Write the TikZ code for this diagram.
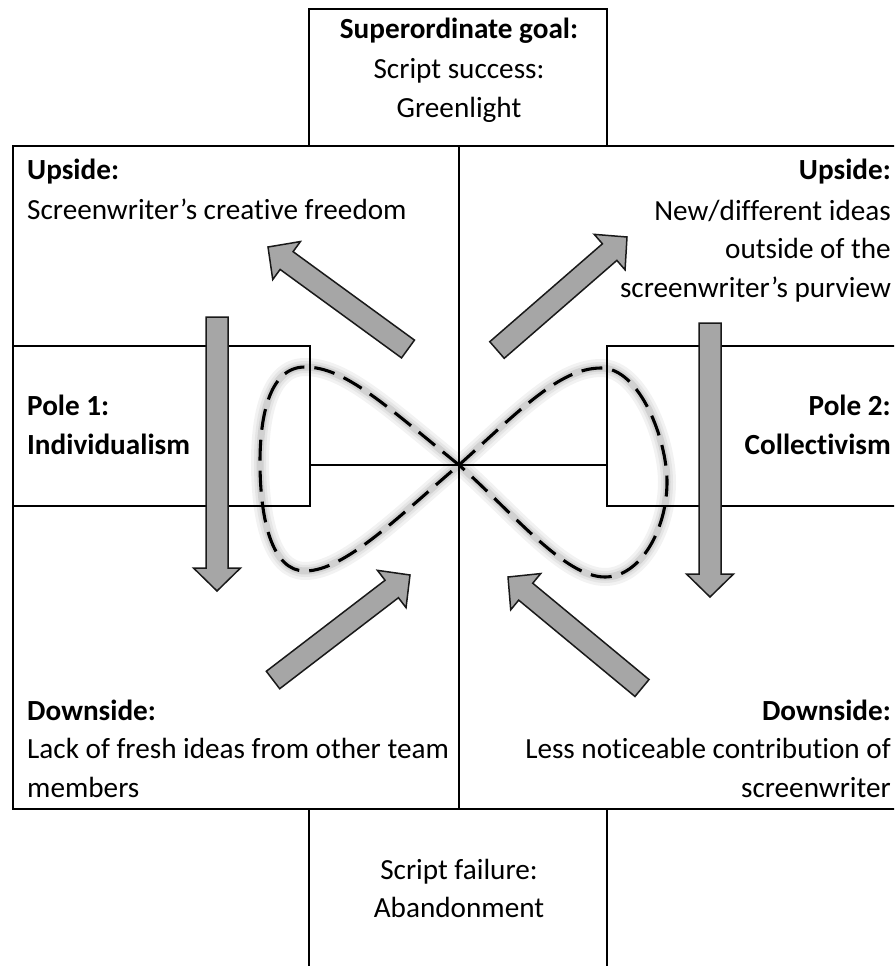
\documentclass[tikz,border=0pt]{standalone}
\usepackage{fontspec}
\setmainfont{Carlito}[Ligatures=NoCommon]
\usetikzlibrary{calc}
\definecolor{arrowgray}{HTML}{A6A6A6}
\tikzset{
  frameline/.style={line width=2pt, black},
  txt/.style={inner sep=0pt, font=\fontsize{29.2}{39}\selectfont},
  btxt/.style={inner sep=0pt, font=\fontsize{29.2}{39}\selectfont\bfseries},
  barrow/.style={fill=arrowgray, draw=black!90, line width=1.5pt, line join=miter},
  dashline/.style={line width=3.1pt, black, dash pattern=on 21pt off 10pt},
  glowA/.style={line width=18pt, black!5, line cap=round, line join=round},
  glowB/.style={line width=12pt, black!10, line cap=round, line join=round},
  glowC/.style={line width=7pt, black!18, line cap=round, line join=round},
}
\newcommand{\blockarrow}[2]{%
  \coordinate (#2b) at ($(#2)!23pt!(#1)$);
  \draw[barrow] ($(#1)!11pt!90:(#2)$) -- ($(#2b)!11pt!90:(#2)$) -- ($(#2b)!23.5pt!90:(#2)$)
    -- (#2) -- ($(#2b)!23.5pt!-90:(#2)$) -- ($(#2b)!11pt!-90:(#2)$) -- ($(#1)!11pt!-90:(#2)$) -- cycle;}
\newcommand{\eightpath}{(459,465) .. controls (385,405) and (345,367) .. (305,367)
  .. controls (268,367) and (260,420) .. (260,462)
  .. controls (260,520) and (272,571) .. (305,571)
  .. controls (345,571) and (400,515) .. (459,465)
  .. controls (520,410) and (560,368) .. (601,368)
  .. controls (640,368) and (667,440) .. (667,482)
  .. controls (667,530) and (640,577) .. (605,577)
  .. controls (565,577) and (515,515) .. (459,465) -- cycle}
\begin{document}
\begin{tikzpicture}[x=1pt,y=-1pt]
\useasboundingbox (0,0) rectangle (894,966);
\clip (0,0) rectangle (894,966);
% glow of the dashed loop
\draw[glowA] \eightpath;
\draw[glowB] \eightpath;
\draw[glowC] \eightpath;
% frame
\draw[frameline] (309,9) rectangle (607,146);
\draw[frameline] (13,146) rectangle (900,809);
\draw[frameline] (459,146) -- (459,809);
\draw[frameline] (13,346) rectangle (310,506);
\draw[frameline] (607,346) rectangle (900,506);
\draw[frameline] (310,465) -- (607,465);
\draw[frameline] (309,809) -- (309,970);
\draw[frameline] (607,809) -- (607,970);
% dashed figure eight
\draw[dashline] \eightpath;
% arrows
\coordinate (ulT) at (408,349); \coordinate (ulH) at (268,247);
\coordinate (urT) at (497,350); \coordinate (urH) at (627,237);
\coordinate (llT) at (273,680); \coordinate (llH) at (410,575);
\coordinate (lrT) at (642,688); \coordinate (lrH) at (508,577);
\coordinate (vlT) at (217,317); \coordinate (vlH) at (217,591);
\coordinate (vrT) at (710,323); \coordinate (vrH) at (710,597);
\blockarrow{ulT}{ulH}
\blockarrow{urT}{urH}
\blockarrow{llT}{llH}
\blockarrow{lrT}{lrH}
\blockarrow{vlT}{vlH}
\blockarrow{vrT}{vrH}
% texts
\node[btxt, anchor=base] (g1) at (459,39) {Superordinate goal:};
\node[txt, anchor=base] (g2) at (459,78) {Script success:};
\node[txt, anchor=base] (g3) at (459,117) {Greenlight};
\node[btxt, anchor=base west] (u1) at (27,179) {Upside:};
\node[txt, anchor=base west] (u2) at (27,219) {Screenwriter’s creative freedom};
\node[btxt, anchor=base east] (r1) at (891,179) {Upside:};
\node[txt, anchor=base east] (r2) at (891,220) {New/different ideas};
\node[txt, anchor=base east] (r3) at (891,258) {outside of the};
\node[txt, anchor=base east] (r4) at (891,297) {screenwriter’s purview};
\node[btxt, anchor=base west] (p1a) at (27,415) {Pole 1:};
\node[btxt, anchor=base west] (p1b) at (27,454) {Individualism};
\node[btxt, anchor=base east] (p2a) at (891,415) {Pole 2:};
\node[btxt, anchor=base east] (p2b) at (891,454) {Collectivism};
\node[btxt, anchor=base west] (d1) at (27,720) {Downside:};
\node[txt, anchor=base west] (d2) at (27,758) {Lack of fresh ideas from other team};
\node[txt, anchor=base west] (d3) at (27,797) {members};
\node[btxt, anchor=base east] (e1) at (891,720) {Downside:};
\node[txt, anchor=base east] (e2) at (891,758) {Less noticeable contribution of};
\node[txt, anchor=base east] (e3) at (891,797) {screenwriter};
\node[txt, anchor=base] (f1) at (459,879) {Script failure:};
\node[txt, anchor=base] (f2) at (459,917) {Abandonment};
\end{tikzpicture}
\end{document}
